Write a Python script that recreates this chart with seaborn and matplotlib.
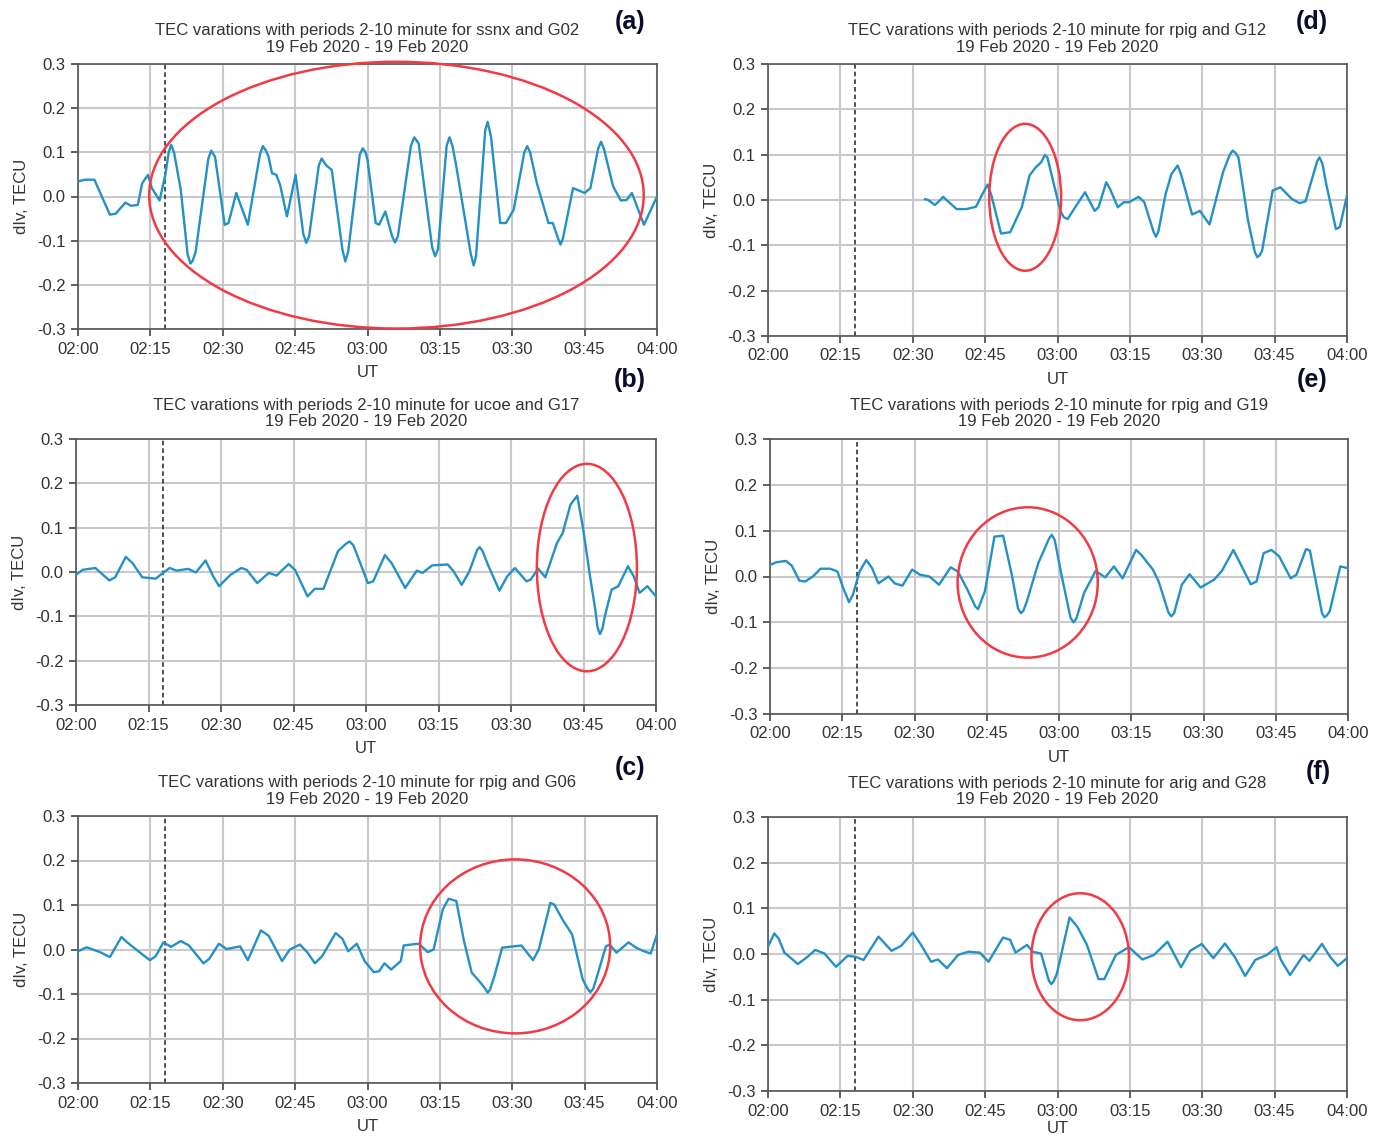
import numpy as np
import pandas as pd
import matplotlib
matplotlib.use("Agg")
import matplotlib.pyplot as plt
import seaborn as sns
from matplotlib.patches import Ellipse

sns.set_style("whitegrid")
plt.rcParams['font.family'] = ['Liberation Sans', 'DejaVu Sans']
plt.rcParams['axes.unicode_minus'] = False

# ---------------- data ----------------
tick_minutes = [0, 15, 30, 45, 60, 75, 90, 105, 120]
tick_labels = ["02:00", "02:15", "02:30", "02:45", "03:00", "03:15", "03:30", "03:45", "04:00"]
y_ticks = [-0.3, -0.2, -0.1, 0.0, 0.1, 0.2, 0.3]
y_tick_labels = ["-0.3", "-0.2", "-0.1", "0.0", "0.1", "0.2", "0.3"]
event_minute = 18

# (a) ssnx G02
a_t = [0, 1.4, 3.4, 6.6, 7.8, 9.8, 11, 12.4, 13.3, 14.5, 15.3, 16.9, 18.1, 18.8, 19.3, 19.9, 21.3,
       22.7, 23.3, 23.8, 24.4, 27.0, 27.6, 28.4, 30.4, 31.2, 32.8, 35.2, 37.7, 38.3, 38.9, 39.5, 40.2,
       41.1, 41.9, 43.3, 45.1, 46.7, 47.3, 47.9, 49.9, 50.5, 51.4, 52.6, 54.8, 55.4, 56.0, 58.4, 59,
       59.6, 60, 61.7, 62.4, 63.7, 65.1, 65.7, 66.3, 69.0, 69.7, 70.6, 73.4, 74, 74.6, 76.4, 77, 77.6,
       78.3, 81.4, 82, 82.5, 84.4, 84.9, 85.6, 87.5, 88.7, 90.3, 92.5, 93.1, 93.7, 95.1, 97.5, 98.4,
       99.5, 100, 100.5, 102.6, 105, 106.2, 107.8, 108.4, 109.0, 110.9, 112.5, 113.7, 114.8, 117.3, 120]
a_v = [0.034, 0.038, 0.038, -0.041, -0.039, -0.014, -0.021, -0.019, 0.030, 0.049, 0.019, -0.009,
       0.049, 0.10, 0.117, 0.10, 0.015, -0.13, -0.152, -0.145, -0.124, 0.085, 0.104, 0.09, -0.064,
       -0.06, 0.008, -0.064, 0.095, 0.114, 0.105, 0.09, 0.053, 0.049, 0.026, -0.045, 0.049, -0.085,
       -0.105, -0.09, 0.07, 0.086, 0.071, 0.06, -0.12, -0.147, -0.125, 0.095, 0.109, 0.1, 0.083,
       -0.06, -0.064, -0.034, -0.09, -0.104, -0.09, 0.115, 0.134, 0.12, -0.115, -0.135, -0.12, 0.115,
       0.134, 0.115, 0.075, -0.13, -0.156, -0.135, 0.15, 0.169, 0.135, -0.06, -0.06, -0.03, 0.1,
       0.114, 0.1, 0.03, -0.06, -0.06, -0.095, -0.109, -0.095, 0.019, 0.008, 0.019, 0.108, 0.124,
       0.108, 0.023, -0.009, -0.008, 0.008, -0.064, 0.0]

# (d) rpig G12
d_t = [32.5, 33.2, 34.6, 35.6, 36.3, 37.1, 39.1, 41.1, 43.1, 44.3, 45.5, 46.3, 48.3, 50.2, 52.6,
       54.2, 55.4, 56.6, 57.4, 57.9, 59.4, 60.6, 61.3, 62.1, 63.3, 65.7, 67.7, 68.5, 70.1, 70.9, 72.5,
       73.7, 74.8, 76.8, 78, 79.9, 80.4, 80.9, 82.4, 83.6, 84.9, 85.6, 87.9, 89.5, 91.5, 94.3, 95.7,
       96.3, 96.9, 97.5, 99.5, 100.9, 101.4, 101.9, 102.4, 104.6, 106.2, 108.6, 110.2, 111.4, 113.8,
       114.3, 114.9, 115.7, 117.7, 118.5, 120]
d_v = [0.002, 0.0, -0.011, -0.001, 0.007, -0.001, -0.02, -0.02, -0.015, 0.01, 0.034, 0.01, -0.074,
       -0.071, -0.016, 0.054, 0.071, 0.083, 0.099, 0.094, 0.028, -0.024, -0.038, -0.042, -0.022,
       0.017, -0.024, -0.016, 0.039, 0.024, -0.016, -0.005, -0.005, 0.007, -0.005, -0.07, -0.081,
       -0.07, 0.013, 0.057, 0.076, 0.057, -0.032, -0.024, -0.054, 0.061, 0.1, 0.109, 0.104, 0.094,
       -0.046, -0.115, -0.126, -0.122, -0.112, 0.021, 0.028, 0.002, -0.007, -0.003, 0.085, 0.094,
       0.08, 0.035, -0.064, -0.06, 0.01]

# (b) ucoe G17
b_t = [0, 1.4, 4, 6.9, 8.1, 10.3, 11.7, 13.7, 16.5, 18, 19.4, 20.8, 23.2, 24.8, 26.8, 28.4, 29.6,
       32, 34.2, 35.3, 37.5, 39.9, 41.5, 44, 45.3, 47.9, 49.4, 51.2, 54.2, 55.8, 56.6, 57.4, 60.4,
       61.5, 63.9, 65.3, 68.1, 70.5, 71.7, 73.7, 76.9, 78.1, 79.8, 81.4, 83.0, 83.5, 84.1, 85.2, 87.6,
       89.2, 90.8, 93.2, 94.1, 95.6, 97.1, 99.5, 100.7, 102.3, 103.7, 104.9, 106.3, 107.5, 107.9,
       108.4, 108.9, 109.5, 110.8, 112.2, 114.2, 115.4, 116.6, 118.2, 120]
b_v = [-0.006, 0.005, 0.009, -0.019, -0.012, 0.034, 0.02, -0.012, -0.015, -0.002, 0.009, 0.003,
       0.007, -0.001, 0.026, -0.01, -0.032, -0.006, 0.009, 0.005, -0.025, -0.002, -0.008, 0.018,
       0.005, -0.055, -0.038, -0.038, 0.047, 0.063, 0.069, 0.06, -0.025, -0.021, 0.038, 0.02, -0.036,
       0.003, -0.002, 0.015, 0.017, 0.002, -0.029, 0.002, 0.05, 0.056, 0.048, 0.017, -0.042, -0.01,
       0.009, -0.021, -0.017, 0.008, -0.012, 0.065, 0.088, 0.152, 0.172, 0.099, -0.006, -0.089,
       -0.125, -0.14, -0.128, -0.096, -0.04, -0.032, 0.013, -0.01, -0.047, -0.032, -0.055]

# (e) rpig G19
e_t = [0, 1.3, 3.3, 4.5, 6.1, 7.3, 8.9, 10.5, 12.5, 14, 15.2, 16.4, 17.2, 18.6, 20, 21.2, 22.5,
       24.6, 25.9, 27.5, 29.5, 31.1, 33.1, 35.1, 37.5, 39, 41, 42.6, 43.2, 44.6, 46.6, 48.4, 50.2,
       51.5, 52.1, 52.6, 53.3, 55.7, 57.9, 58.5, 59.1, 60.5, 62.4, 63, 63.6, 65.2, 67.6, 69.6, 71.4,
       73.2, 76, 77.1, 79.5, 80.7, 82.7, 83.3, 83.9, 85.5, 87.1, 89.4, 92.2, 93.8, 96.2, 97.8, 99.8,
       101, 102.5, 104.1, 105.7, 108.1, 109.3, 111.3, 112.1, 114.6, 115.1, 115.6, 116.2, 118.4, 120]
e_v = [0.025, 0.031, 0.034, 0.024, -0.009, -0.011, 0.0, 0.017, 0.017, 0.011, -0.025, -0.056, -0.04,
       0.011, 0.036, 0.018, -0.015, 0.0, -0.015, -0.02, 0.015, 0.004, 0.0, -0.018, 0.02, 0.011,
       -0.029, -0.065, -0.071, -0.033, 0.087, 0.089, 0.004, -0.07, -0.08, -0.075, -0.055, 0.029,
       0.082, 0.091, 0.08, 0.004, -0.09, -0.1, -0.092, -0.036, 0.012, -0.002, 0.022, -0.004, 0.058,
       0.047, 0.015, -0.011, -0.078, -0.087, -0.08, -0.018, 0.005, -0.024, -0.007, 0.012, 0.058,
       0.025, -0.017, -0.011, 0.051, 0.058, 0.044, -0.004, 0.004, 0.06, 0.056, -0.08, -0.089, -0.085,
       -0.076, 0.022, 0.018]

# (c) rpig G06
c_t = [0, 1.8, 4.6, 6.6, 9, 10.2, 12.5, 14.9, 16.1, 17.7, 19.3, 21.3, 23, 26, 27.2, 29.2, 30.8,
       33.6, 35.2, 37.9, 39.5, 42.3, 43.9, 46, 47.5, 49.1, 50.6, 53.4, 54.8, 56, 57.8, 59.4, 61.3,
       62.4, 63.5, 64.9, 66.9, 67.5, 68.9, 70.6, 72.5, 73.7, 75.6, 76.8, 78.4, 80, 81.6, 83.3, 84.4,
       84.9, 85.4, 86.3, 87.9, 90.3, 91.9, 94.3, 95.5, 97.9, 98.7, 100.6, 102.4, 104.6, 105.6, 106.2,
       106.8, 107.8, 109.4, 110.2, 111.6, 114.1, 115.7, 117.3, 118.7, 120]
c_v = [-0.004, 0.005, -0.006, -0.017, 0.028, 0.016, -0.004, -0.024, -0.015, 0.016, 0.006, 0.019,
       0.009, -0.031, -0.021, 0.013, 0.001, 0.007, -0.024, 0.043, 0.031, -0.026, 0.0, 0.011, -0.006,
       -0.031, -0.015, 0.037, 0.024, -0.004, 0.013, -0.026, -0.051, -0.049, -0.031, -0.045, -0.026,
       0.009, 0.011, 0.013, -0.006, 0.0, 0.09, 0.114, 0.109, 0.019, -0.052, -0.073, -0.088, -0.097,
       -0.09, -0.06, 0.004, 0.007, 0.009, -0.024, 0.0, 0.105, 0.101, 0.064, 0.034, -0.067, -0.088,
       -0.096, -0.088, -0.052, 0.007, 0.011, -0.007, 0.016, 0.004, -0.004, -0.009, 0.034]

# (f) arig G28
f_t = [0, 1.3, 2.2, 3.4, 6.2, 8.2, 9.8, 11.7, 14.1, 16.5, 18.1, 19.8, 22.9, 25.6, 27.6, 30, 31.6,
       33.8, 35.2, 37.1, 39.4, 41.5, 43.9, 45.7, 48.7, 50.2, 51.3, 53.7, 54.8, 56.6, 58.2, 58.7, 59.2,
       59.9, 62.5, 64.1, 66.1, 68.5, 69.7, 72.1, 74.8, 77.6, 80, 82.8, 85.6, 87.5, 89.9, 92.3, 94.7,
       96.7, 98.9, 101, 103.4, 105.4, 106.3, 108.2, 111, 112.2, 114.8, 116.5, 118.1, 120]
f_v = [0.016, 0.045, 0.034, 0.003, -0.022, -0.006, 0.009, 0.001, -0.028, -0.004, -0.006, -0.013,
       0.038, 0.007, 0.018, 0.047, 0.022, -0.017, -0.012, -0.031, -0.002, 0.005, 0.003, -0.017, 0.036,
       0.031, 0.003, 0.02, 0.005, 0.001, -0.058, -0.066, -0.06, -0.042, 0.08, 0.06, 0.02, -0.055,
       -0.055, -0.002, 0.015, -0.012, -0.002, 0.027, -0.029, 0.007, 0.022, -0.009, 0.023, -0.006,
       -0.048, -0.013, -0.002, 0.015, -0.013, -0.046, -0.002, -0.015, 0.022, -0.006, -0.026, -0.009]

titles = {
    "a": "TEC varations with periods 2-10 minute for ssnx and G02",
    "b": "TEC varations with periods 2-10 minute for ucoe and G17",
    "c": "TEC varations with periods 2-10 minute for rpig and G06",
    "d": "TEC varations with periods 2-10 minute for rpig and G12",
    "e": "TEC varations with periods 2-10 minute for rpig and G19",
    "f": "TEC varations with periods 2-10 minute for arig and G28",
}
date_line = "19 Feb 2020 - 19 Feb 2020"

series = {"a": (a_t, a_v), "b": (b_t, b_v), "c": (c_t, c_v),
          "d": (d_t, d_v), "e": (e_t, e_v), "f": (f_t, f_v)}

# highlighted regions (center minute, center value, width minutes, height)
ellipses = {"a": (66.0, 0.003, 102.5, 0.604),
            "b": (105.7, 0.01, 20.7, 0.468),
            "c": (90.6, 0.007, 39.4, 0.391),
            "d": (53.3, 0.006, 14.9, 0.324),
            "e": (53.5, -0.013, 29.1, 0.328),
            "f": (64.7, -0.006, 20.2, 0.278)}

# ---------------- layout ----------------
W, H = 1384, 1139
axes_px = {"a": (78, 64, 657, 329), "d": (768, 64, 1347, 336),
           "b": (76, 439, 656, 705), "e": (770, 439, 1348, 714),
           "c": (78, 816, 657, 1083), "f": (768, 817, 1347, 1091)}
label_px = {"a": (630, 22), "d": (1312, 22), "b": (630, 380),
            "e": (1312, 380), "c": (630, 768), "f": (1318, 772)}
xlabel_pad = {"a": 6, "b": 6, "c": 6, "d": 6, "e": 6, "f": 2}

line_color = "#2391c6"
ell_color = "#f23a44"
text_color = "#333333"

fig = plt.figure(figsize=(W / 100, H / 100), dpi=100)
fig.patch.set_facecolor("white")

for key in ["a", "b", "c", "d", "e", "f"]:
    x0, y0, x1, y1 = axes_px[key]
    ax = fig.add_axes([x0 / W, 1 - y1 / H, (x1 - x0) / W, (y1 - y0) / H])
    t, v = series[key]
    df = pd.DataFrame({"minute": t, "dIv": v}).sort_values("minute")
    sns.lineplot(data=df, x="minute", y="dIv", ax=ax, color=line_color, lw=1.7, zorder=3,
                 sort=False, solid_joinstyle="round", solid_capstyle="round")
    ax.set_xlim(0, 120)
    ax.set_ylim(-0.3, 0.3)
    ax.set_xticks(tick_minutes)
    ax.set_xticklabels(tick_labels)
    ax.set_yticks(y_ticks)
    ax.set_yticklabels(y_tick_labels)
    ax.grid(True, color="#c9c9c9", lw=1.5)
    ax.set_axisbelow(True)
    ax.tick_params(axis="both", which="major", bottom=True, left=True, length=5, width=1.1,
                   color="#333333", labelsize=12, labelcolor=text_color, pad=4)
    for sp in ax.spines.values():
        sp.set_color("#555555")
        sp.set_linewidth(1.2)
    ax.set_xlabel("UT", fontsize=12, color=text_color, labelpad=xlabel_pad[key])
    ax.set_ylabel("dIv, TECU", fontsize=12, color=text_color, labelpad=6)
    ax.set_title(titles[key] + "\n" + date_line, fontsize=12, color=text_color, pad=9,
                 linespacing=1.12)
    ax.axvline(event_minute, color="#222222", lw=1.1, ls=(0, (3, 2)), zorder=2)
    cx, cy, ew, eh = ellipses[key]
    ax.add_patch(Ellipse((cx, cy), ew, eh, fill=False, ec=ell_color, lw=1.8,
                         clip_on=False, zorder=5))
    lx, ly = label_px[key]
    fig.text(lx / W, 1 - ly / H, "(" + key + ")", fontsize=18, fontweight="bold",
             color="#0b0b2a", ha="center", va="center")

fig.savefig("out.png", dpi=100, facecolor="white")
